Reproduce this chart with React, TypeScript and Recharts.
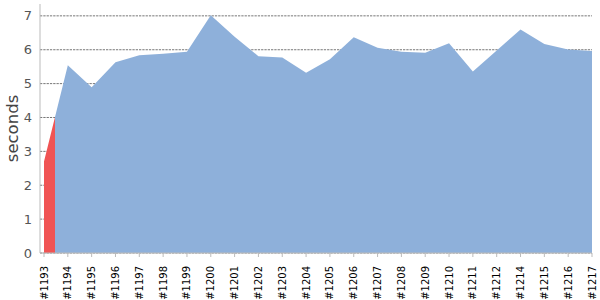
import React from 'react';
import { AreaChart, Area, XAxis, YAxis, CartesianGrid } from 'recharts';

const builds = ['#1193','#1194','#1195','#1196','#1197','#1198','#1199','#1200','#1201','#1202','#1203','#1204','#1205','#1206','#1207','#1208','#1209','#1210','#1211','#1212','#1214','#1215','#1216','#1217'];
const durations = [2.7,5.54,4.89,5.63,5.84,5.88,5.94,7.02,6.38,5.81,5.77,5.32,5.72,6.37,6.06,5.94,5.91,6.19,5.36,5.98,6.6,6.17,6.01,5.96];
const statuses = ['failed','ok','ok','ok','ok','ok','ok','ok','ok','ok','ok','ok','ok','ok','ok','ok','ok','ok','ok','ok','ok','ok','ok','ok'];
const yTicks = [0,1,2,3,4,5,6,7];

const data = builds.map((b, i) => ({ build: b, seconds: durations[i], status: statuses[i] }));

const RED = '#F05454';
const BLUE = '#8EB0DA';
const FONT = '"DejaVu Sans", Verdana, sans-serif';

// colour stop: first build's failed segment extends half an interval
const failEnd = (0.48 / (builds.length - 1)) * 100;

const XTick = (props: any) => {
  const { x, y, payload } = props;
  return (
    <g transform={`translate(${x},${y + 9})`}>
      <text transform="rotate(-90)" textAnchor="end" dy="0.35em" fontSize={10} fill="#000" fontFamily={FONT}>
        {payload.value}
      </text>
    </g>
  );
};

export default function App() {
  return (
    <div style={{ position: 'absolute', left: 0, top: 0 }}>
      <AreaChart width={600} height={300} data={data} margin={{ top: 4, right: 8, bottom: 0, left: 0 }}>
        <defs>
          <linearGradient id="statusFill" x1="0" y1="0" x2="1" y2="0">
            <stop offset={`${failEnd}%`} stopColor={RED} />
            <stop offset={`${failEnd}%`} stopColor={BLUE} />
            <stop offset="100%" stopColor={BLUE} />
          </linearGradient>
        </defs>
        <CartesianGrid vertical={false} stroke="#777" strokeDasharray="2.3 1" syncWithTicks />
        <XAxis
          dataKey="build"
          interval={0}
          height={47}
          padding={{ left: 4, right: 0 }}
          tick={<XTick />}
          tickSize={4}
          tickMargin={0}
          stroke="#bbb"
        />
        <YAxis
          width={40}
          domain={[0, 7.35]}
          ticks={yTicks}
          allowDataOverflow
          tickLine={false}
          stroke="#bbb"
          tick={{ fill: '#555', fontSize: 13, fontFamily: FONT }}
          label={{ value: 'seconds', angle: -90, position: 'insideLeft', offset: 12, style: { fill: '#444', fontSize: 16.5, fontFamily: FONT, textAnchor: 'middle' } }}
        />
        <Area
          type="linear"
          dataKey="seconds"
          stroke="none"
          fill="url(#statusFill)"
          fillOpacity={1}
          isAnimationActive={false}
        />
      </AreaChart>
    </div>
  );
}
